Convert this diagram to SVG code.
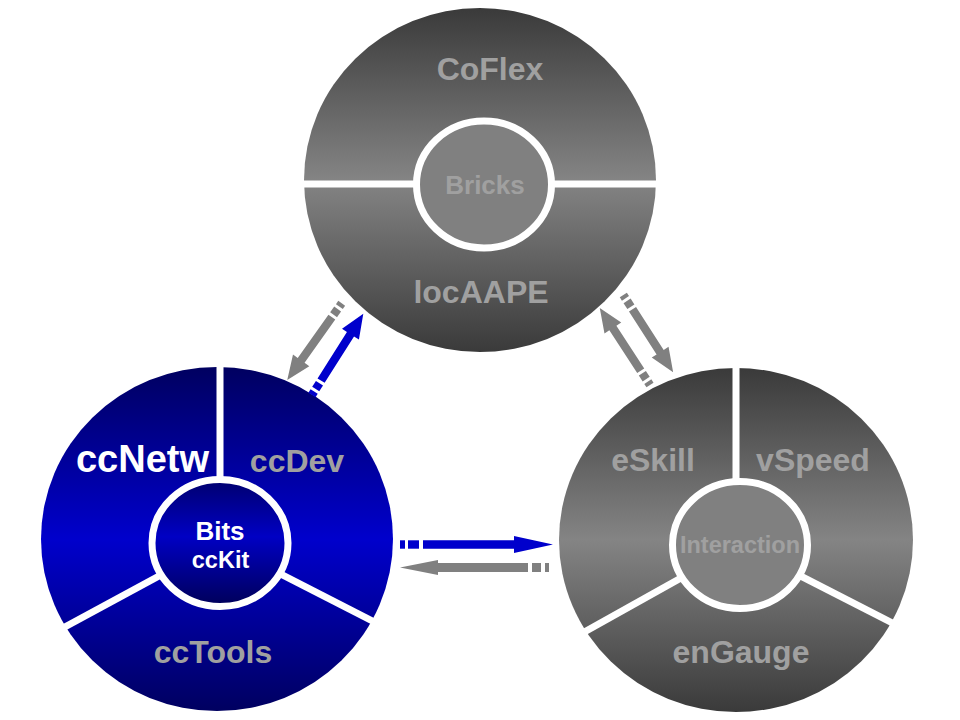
<svg xmlns="http://www.w3.org/2000/svg" width="960" height="720" viewBox="0 0 960 720">
<defs>
<linearGradient id="gGray" x1="0" y1="0" x2="0" y2="1">
<stop offset="0" stop-color="#3a3a3a"/>
<stop offset="0.5" stop-color="#848484"/>
<stop offset="1" stop-color="#3a3a3a"/>
</linearGradient>
<linearGradient id="gBlue" x1="0" y1="0" x2="0" y2="1">
<stop offset="0" stop-color="#000060"/>
<stop offset="0.5" stop-color="#0000cc"/>
<stop offset="1" stop-color="#000060"/>
</linearGradient>
<linearGradient id="gBlueIn" x1="0" y1="0" x2="0" y2="1">
<stop offset="0" stop-color="#00006e"/>
<stop offset="0.45" stop-color="#0000c4"/>
<stop offset="1" stop-color="#000058"/>
</linearGradient>
<style>
text{font-family:"Liberation Sans",Arial,sans-serif;font-weight:bold;text-anchor:middle}
.lg{font-size:32px;fill:#a0a0a0}
.gt{fill:#a0a0a0}
.wt{fill:#ffffff}
.div{stroke:#ffffff;stroke-width:7;fill:none}
.ring{stroke:#ffffff;stroke-width:7}
.blue{fill:#0000cc}
.gray{fill:#808080}
</style>
</defs>

<g id="node-coflex">
<ellipse cx="480" cy="180" rx="176" ry="172" fill="url(#gGray)"/>
<line class="div" x1="290" y1="184" x2="670" y2="184"/>
<ellipse class="ring" cx="484" cy="184.5" rx="67.5" ry="63.5" fill="#808080"/>
<text class="lg" x="490" y="80">CoFlex</text>
<text class="gt" x="485" y="194" font-size="26">Bricks</text>
<text class="lg" x="481" y="303">locAAPE</text>
</g>

<g id="node-ccnetw">
<ellipse cx="217" cy="539" rx="176" ry="172" fill="url(#gBlue)"/>
<line class="div" x1="220" y1="355" x2="220" y2="543"/>
<line class="div" x1="220" y1="543" x2="50" y2="635"/>
<line class="div" x1="220" y1="543" x2="390" y2="630"/>
<ellipse class="ring" cx="220" cy="543" rx="68" ry="63.5" fill="url(#gBlueIn)"/>
<text class="wt" x="142.5" y="472" font-size="38">ccNetw</text>
<text class="lg" x="297" y="472">ccDev</text>
<text class="lg" x="213" y="663" font-size="31">ccTools</text>
<text class="wt" x="220" y="540" font-size="26">Bits</text>
<text class="wt" x="220.5" y="568" font-size="23.5">ccKit</text>
</g>

<g id="node-interaction">
<ellipse cx="736" cy="540" rx="177" ry="172" fill="url(#gGray)"/>
<line class="div" x1="736" y1="355" x2="736" y2="545"/>
<line class="div" x1="740" y1="545" x2="570" y2="640"/>
<line class="div" x1="740" y1="545" x2="910" y2="632"/>
<ellipse class="ring" cx="740" cy="545" rx="67.5" ry="63.5" fill="#808080"/>
<text class="lg" x="653" y="471">eSkill</text>
<text class="lg" x="813" y="471" font-size="31">vSpeed</text>
<text class="lg" x="741" y="663" font-size="31">enGauge</text>
<text class="gt" x="740" y="553" font-size="23.5">Interaction</text>
</g>

<g id="connectors">
<g class="blue" transform="translate(400,544.5)">
<rect x="0" y="-4.2" width="5" height="8.4"/>
<rect x="8" y="-4.2" width="11" height="8.4"/>
<polygon points="23,-4.2 114,-4.2 114,-8.5 153,0 114,8.5 114,4.2 23,4.2"/>
</g>
<g class="gray" transform="translate(549,567.5) rotate(180)">
<rect x="0" y="-4.5" width="4" height="9"/>
<rect x="8" y="-4.5" width="9" height="9"/>
<polygon points="21,-4.5 111,-4.5 111,-7.5 149,0 111,7.5 111,4.5 21,4.5"/>
</g>
<g class="blue" transform="translate(312,395) rotate(-57.7)">
<rect x="0" y="-4.2" width="4" height="8.4"/>
<rect x="7" y="-4.2" width="7" height="8.4"/>
<polygon points="17,-4.2 72,-4.2 72,-10 96,0 72,10 72,4.2 17,4.2"/>
</g>
<g class="gray" transform="translate(341.7,303.3) rotate(125.4)">
<rect x="0" y="-4.2" width="4" height="8.4"/>
<rect x="7" y="-4.2" width="7" height="8.4"/>
<polygon points="17,-4.2 70,-4.2 70,-10 94,0 70,10 70,4.2 17,4.2"/>
</g>
<g class="gray" transform="translate(650,385) rotate(-123.1)">
<rect x="0" y="-4.2" width="4" height="8.4"/>
<rect x="7" y="-4.2" width="7" height="8.4"/>
<polygon points="17,-4.2 68,-4.2 68,-10 92,0 68,10 68,4.2 17,4.2"/>
</g>
<g class="gray" transform="translate(623.3,295) rotate(57.2)">
<rect x="0" y="-4.2" width="4" height="8.4"/>
<rect x="7" y="-4.2" width="7" height="8.4"/>
<polygon points="17,-4.2 68,-4.2 68,-10 92,0 68,10 68,4.2 17,4.2"/>
</g>
</g>
</svg>
